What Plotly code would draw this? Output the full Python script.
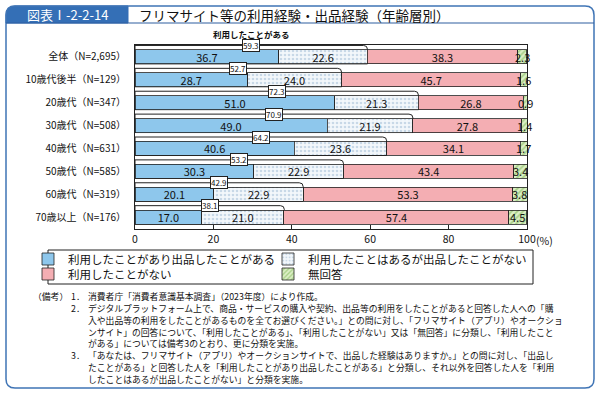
import plotly.graph_objects as go

# ---------------- data ----------------
categories = ["全体（N=2,695）", "10歳代後半（N=129）", "20歳代（N=347）", "30歳代（N=508）",
              "40歳代（N=631）", "50歳代（N=585）", "60歳代（N=319）", "70歳以上（N=176）"]
series_names = ["利用したことがあり出品したことがある", "利用したことはあるが出品したことがない",
                "利用したことがない", "無回答"]
used_and_listed = [36.7, 28.7, 51.0, 49.0, 40.6, 30.3, 20.1, 17.0]
used_not_listed = [22.6, 24.0, 21.3, 21.9, 23.6, 22.9, 22.9, 21.0]
never_used = [38.3, 45.7, 26.8, 27.8, 34.1, 43.4, 53.3, 57.4]
no_answer = [2.3, 1.6, 0.9, 1.4, 1.7, 3.4, 3.8, 4.5]
used_total = [59.3, 52.7, 72.3, 70.9, 64.2, 53.2, 42.9, 38.1]
x_ticks = [0, 20, 40, 60, 80, 100]
x_ticklabels = ["0", "20", "40", "60", "80", "100"]

title_tag = "図表Ⅰ-2-2-14"
title_text = "フリマサイト等の利用経験・出品経験（年齢層別）"
bracket_label = "利用したことがある"
notes_head = "（備考）"
note_numbers = ["1．", "2．", "", "", "", "3．", "", ""]
note_lines = [
    "消費者庁「消費者意識基本調査」（2023年度）により作成。",
    "デジタルプラットフォーム上で、商品・サービスの購入や契約、出品等の利用をしたことがあると回答した人への「購",
    "入や出品等の利用をしたことがあるものを全てお選びください。」との問に対し、「フリマサイト（アプリ）やオークショ",
    "ンサイト」の回答について、「利用したことがある」、「利用したことがない」又は「無回答」に分類し、「利用したこと",
    "がある」については備考3のとおり、更に分類を実施。",
    "「あなたは、フリマサイト（アプリ）やオークションサイトで、出品した経験はありますか。」との問に対し、「出品し",
    "たことがある」と回答した人を「利用したことがあり出品したことがある」と分類し、それ以外を回答した人を「利用",
    "したことはあるが出品したことがない」と分類を実施。",
]

# ---------------- layout geometry ----------------
W, H = 600, 394
L, R, T, B = 135, 527, 45, 229
FONT = "Noto Sans CJK JP"


def px(p):
    return (p - L) / (R - L)


def py(p):
    return (B - p) / (B - T)


rows = list(range(len(categories)))
BAR_W = 0.61

fig = go.Figure()
series = [used_and_listed, used_not_listed, never_used, no_answer]
markers = [
    dict(color="#8EC7EC", line=dict(color="#222", width=0.8)),
    dict(color="#F3F7FB", line=dict(color="#222", width=0.8),
         pattern=dict(shape=".", fgcolor="#9DB9D4", bgcolor="#F3F7FB", size=4, solidity=0.35)),
    dict(color="#F4AEB3", line=dict(color="#222", width=0.8)),
    dict(color="#DCEFC6", line=dict(color="#222", width=0.8),
         pattern=dict(shape="/", fgcolor="#6FAE45", bgcolor="#DCEFC6", size=4, solidity=0.4)),
]
legend_ids = ["legend", "legend2", "legend3", "legend4"]
for k, (name, vals) in enumerate(zip(series_names, series)):
    small = k == 3
    fig.add_trace(go.Bar(
        y=rows, x=vals, name=name, orientation="h", width=BAR_W,
        marker=markers[k], texttemplate="%{x:.1f}",
        textposition="none" if small else "inside",
        insidetextanchor="middle", constraintext="none", cliponaxis=False,
        textfont=dict(family=FONT, size=11, color="#111"),
        legend=legend_ids[k],
    ))

shapes = []
annotations = []


def note(x, y, text, size, xanchor="left", yanchor="middle", **kw):
    annotations.append(dict(x=x, y=y, xref="paper", yref="paper", text=text, showarrow=False,
                            xanchor=xanchor, yanchor=yanchor,
                            font=dict(family=FONT, size=size, color=kw.pop("color", "#111"),
                                      weight=kw.pop("weight", "normal")), **kw))


# labels of the thin "無回答" segments, centred on each segment
for i, a, b, c, d in zip(rows, used_and_listed, used_not_listed, never_used, no_answer):
    annotations.append(dict(x=a + b + c + d / 2, y=i, xref="x", yref="y", text=f"{d:.1f}",
                            showarrow=False, xanchor="center", yanchor="middle",
                            font=dict(family=FONT, size=11, color="#111")))

# bracket boxes for "利用したことがある"
rx, ry = 1.0, 0.17
for i, tot in zip(rows, used_total):
    yt, yb = i - 0.5, i + BAR_W / 2
    path = (f"M0,{yb} L0,{yt} L{tot - rx},{yt} Q{tot},{yt} {tot},{yt + ry} "
            f"L{tot},{yb} Z")
    shapes.append(dict(type="path", path=path, xref="x", yref="y", layer="below",
                       fillcolor="white", line=dict(color="#222", width=1)))
    annotations.append(dict(x=tot / 2, y=yt, xref="x", yref="y", text=f"{tot:.1f}",
                            showarrow=False, xanchor="center", yanchor="middle",
                            bgcolor="white", bordercolor="#222", borderwidth=1, borderpad=0,
                            font=dict(family=FONT, size=8, color="#111")))

annotations.append(dict(x=used_total[0] / 2, y=py(34), xref="x", yref="paper",
                        text=bracket_label, showarrow=False, xanchor="center", yanchor="middle",
                        font=dict(family=FONT, size=8.5, color="#111", weight="bold")))
note(px(534), py(240), "(%)", 10.5)


def rounded_rect(x0, y0, x1, y1, r):
    return (f"M{px(x0 + r)},{py(y0)} L{px(x1 - r)},{py(y0)} Q{px(x1)},{py(y0)} {px(x1)},{py(y0 + r)} "
            f"L{px(x1)},{py(y1 - r)} Q{px(x1)},{py(y1)} {px(x1 - r)},{py(y1)} "
            f"L{px(x0 + r)},{py(y1)} Q{px(x0)},{py(y1)} {px(x0)},{py(y1 - r)} "
            f"L{px(x0)},{py(y0 + r)} Q{px(x0)},{py(y0)} {px(x0 + r)},{py(y0)} Z")


# header tab, outer frame, header rule, legend box
shapes.append(dict(type="path", xref="paper", yref="paper",
                   path=(f"M{px(6)},{py(23)} L{px(6)},{py(15)} Q{px(6)},{py(6)} {px(15)},{py(6)} "
                         f"L{px(128)},{py(6)} L{px(128)},{py(23)} Z"),
                   fillcolor="#346FB6", line=dict(color="#346FB6", width=1), layer="above"))
shapes.append(dict(type="path", xref="paper", yref="paper", path=rounded_rect(6, 6, 594, 388, 9),
                   line=dict(color="#3F74B5", width=1.5), layer="above"))
shapes.append(dict(type="line", xref="paper", yref="paper", x0=px(6), x1=px(594), y0=py(23), y1=py(23),
                   line=dict(color="#2F5F9F", width=1.2), layer="above"))
shapes.append(dict(type="rect", xref="paper", yref="paper", x0=px(48), x1=px(533), y0=py(250), y1=py(284),
                   line=dict(color="#222", width=1), fillcolor="rgba(0,0,0,0)", layer="above"))

note(px(67), py(14.5), title_tag, 13, xanchor="center", color="white")
note(px(137), py(14.5), title_text, 13.5)

# notes: one annotation per line, fixed line pitch
NOTE_FIRST = 296.5
NOTE_PITCH = 11.85
NOTE_SIZE = 8.8
note(px(32), py(NOTE_FIRST), notes_head, NOTE_SIZE, borderpad=0)
for n, (num, txt) in enumerate(zip(note_numbers, note_lines)):
    yy = py(NOTE_FIRST + n * NOTE_PITCH)
    if num:
        note(px(70), yy, num, NOTE_SIZE, borderpad=0)
    note(px(87), yy, txt, NOTE_SIZE, borderpad=0)

legend_pos = [(28, 259), (268, 259), (28, 274), (268, 274)]
legend_layout = {}
for lid, (lx, ly) in zip(legend_ids, legend_pos):
    legend_layout[lid] = dict(x=px(lx), y=py(ly), xanchor="left", yanchor="middle",
                              xref="paper", yref="paper", bgcolor="rgba(0,0,0,0)",
                              font=dict(family=FONT, size=11.5, color="#111"))

fig.update_layout(
    width=W, height=H, margin=dict(l=L, r=W - R, t=T, b=H - B, autoexpand=False),
    barmode="stack", paper_bgcolor="white", plot_bgcolor="white",
    showlegend=True, shapes=shapes, annotations=annotations,
    font=dict(family=FONT, color="#111"),
    **legend_layout,
)
fig.update_xaxes(range=[0, 100], tickvals=x_ticks, ticktext=x_ticklabels, showgrid=False,
                 zeroline=False, showline=True, mirror=True, linecolor="#222", linewidth=1,
                 ticks="inside", ticklen=4, tickcolor="#222",
                 tickfont=dict(family=FONT, size=10.5, color="#111"))
fig.update_yaxes(range=[len(rows) - 0.48, -0.52], tickvals=rows, ticktext=categories,
                 showgrid=False, zeroline=False, showline=True, mirror=True, linecolor="#222",
                 linewidth=1, ticks="", ticklabelstandoff=6,
                 tickfont=dict(family=FONT, size=10, color="#111"))

fig.write_html("out.html", config={"displayModeBar": False},
               post_script="document.body.style.margin='0';")
